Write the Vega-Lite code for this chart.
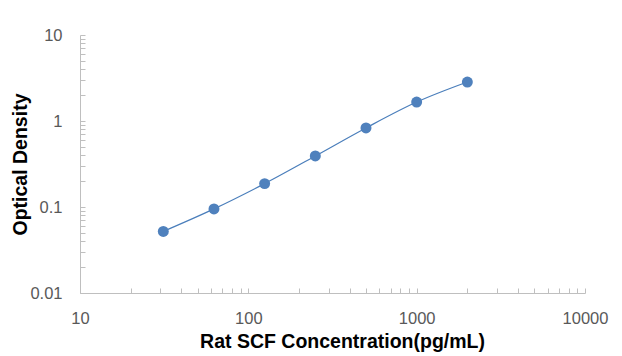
{
  "$schema": "https://vega.github.io/schema/vega-lite/v6.json",
  "width": 505,
  "height": 258,
  "autosize": {"type": "none"},
  "padding": {"left": 80, "top": 35, "right": 37, "bottom": 63},
  "background": "white",
  "config": {
    "view": {"stroke": null},
    "font": "Liberation Sans",
    "axis": {
      "grid": false,
      "domainColor": "#bfbfbf",
      "domainWidth": 1,
      "tickColor": "#bfbfbf",
      "tickSize": -5,
      "labelColor": "#595959",
      "labelFontSize": 16.5,
      "labelFont": "Liberation Sans",
      "titleFont": "Liberation Sans",
      "titleFontSize": 19.5,
      "titleFontWeight": "bold",
      "titleColor": "#000000"
    }
  },
  "data": {
    "values": [
      {"conc": 31.25, "od": 0.052},
      {"conc": 62.5, "od": 0.095},
      {"conc": 125, "od": 0.187},
      {"conc": 250, "od": 0.392},
      {"conc": 500, "od": 0.83},
      {"conc": 1000, "od": 1.66},
      {"conc": 2000, "od": 2.84}
    ]
  },
  "encoding": {
    "x": {
      "field": "conc",
      "type": "quantitative",
      "scale": {"type": "log", "domain": [10, 10000], "nice": false},
      "axis": {
        "title": "Rat SCF Concentration(pg/mL)",
        "values": [10,20,30,40,50,60,70,80,90,100,200,300,400,500,600,700,800,900,1000,2000,3000,4000,5000,6000,7000,8000,9000,10000],
        "labelExpr": "indexof([10,100,1000,10000], datum.value) >= 0 ? toString(datum.value) : ''",
        "labelBaseline": "alphabetic",
        "labelPadding": 35,
        "labelFlush": false,
        "labelOverlap": false,
        "titleX": 262,
        "titleY": 54,
        "titleBaseline": "alphabetic"
      }
    },
    "y": {
      "field": "od",
      "type": "quantitative",
      "scale": {"type": "log", "domain": [0.01, 10], "nice": false},
      "axis": {
        "title": "Optical Density",
        "values": [0.01,0.02,0.03,0.04,0.05,0.06,0.07,0.08,0.09,0.1,0.2,0.3,0.4,0.5,0.6,0.7,0.8,0.9,1,2,3,4,5,6,7,8,9,10],
        "labelExpr": "indexof([0.01,0.1,1,10], datum.value) >= 0 ? toString(datum.value) : ''",
        "labelPadding": 23,
        "labelFlush": false,
        "labelOverlap": false,
        "titleX": -50,
        "titleBaseline": "bottom"
      }
    }
  },
  "layer": [
    {
      "mark": {"type": "line", "interpolate": "monotone", "color": "#4a7ebb", "strokeWidth": 1.2}
    },
    {
      "mark": {"type": "point", "filled": true, "shape": "circle", "size": 120, "color": "#4f81bd", "opacity": 1}
    }
  ]
}
